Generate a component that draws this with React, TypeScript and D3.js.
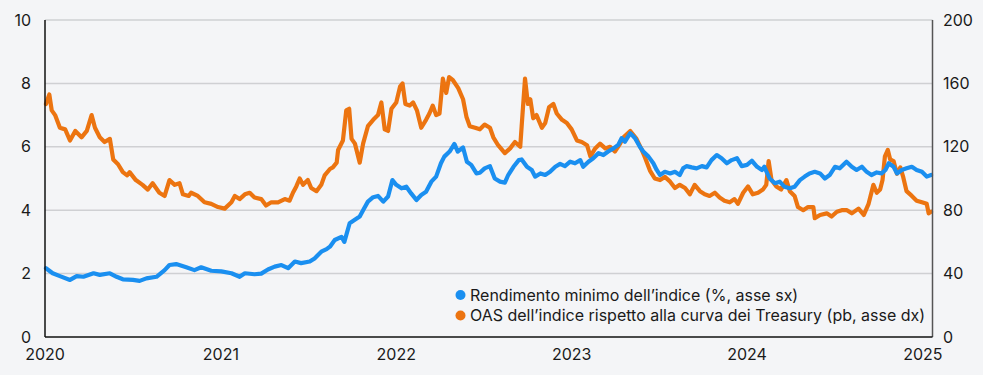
import React from "react";
import * as d3 from "d3";

const xTickYears = ["2020", "2021", "2022", "2023", "2024", "2025"];
const leftTicks = [0, 2, 4, 6, 8, 10];
const rightTicks = [0, 40, 80, 120, 160, 200];
const seriesNames = [
  "Rendimento minimo dell’indice (%, asse sx)",
  "OAS dell’indice rispetto alla curva dei Treasury (pb, asse dx)",
];

// Yield to worst (%), left axis
const ytwDates = [
  "2020-01-03","2020-01-17","2020-02-01","2020-02-22","2020-03-07","2020-03-21","2020-04-11","2020-04-24","2020-05-15","2020-05-29",
  "2020-06-11","2020-07-02","2020-07-16","2020-07-30","2020-08-20","2020-09-06","2020-09-16","2020-09-30","2020-10-21","2020-11-07",
  "2020-11-21","2020-12-12","2021-01-02","2021-01-23","2021-02-09","2021-02-20","2021-03-12","2021-03-26","2021-04-09","2021-04-23",
  "2021-05-07","2021-05-21","2021-06-04","2021-06-17","2021-07-05","2021-07-15","2021-07-29","2021-08-09","2021-08-16","2021-08-26",
  "2021-09-09","2021-09-15","2021-09-26","2021-10-06","2021-10-17","2021-10-24","2021-11-03","2021-11-14","2021-11-24","2021-12-05",
  "2021-12-15","2021-12-24","2022-01-01","2022-01-12","2022-01-22","2022-02-01","2022-02-12","2022-02-22","2022-03-04","2022-03-15",
  "2022-03-25","2022-04-04","2022-04-11","2022-04-22","2022-05-02","2022-05-09","2022-05-20","2022-05-28","2022-06-06","2022-06-17",
  "2022-06-24","2022-07-04","2022-07-15","2022-07-25","2022-08-05","2022-08-15","2022-08-22","2022-09-02","2022-09-13","2022-09-19",
  "2022-09-30","2022-10-10","2022-10-17","2022-10-28","2022-11-07","2022-11-17","2022-11-28","2022-12-08","2022-12-18","2022-12-29",
  "2023-01-08","2023-01-19","2023-01-25","2023-02-05","2023-02-15","2023-02-26","2023-03-08","2023-03-18","2023-03-29","2023-04-08",
  "2023-04-15","2023-04-22","2023-05-03","2023-05-13","2023-05-23","2023-05-30","2023-06-10","2023-06-20","2023-06-27","2023-07-04",
  "2023-07-14","2023-07-25","2023-08-04","2023-08-14","2023-08-21","2023-08-28","2023-09-08","2023-09-18","2023-09-29","2023-10-09",
  "2023-10-19","2023-10-30","2023-11-09","2023-11-20","2023-11-30","2023-12-11","2023-12-21","2024-01-01","2024-01-11","2024-01-22",
  "2024-02-01","2024-02-06","2024-02-17","2024-02-28","2024-03-09","2024-03-19","2024-03-30","2024-04-09","2024-04-20","2024-04-30",
  "2024-05-10","2024-05-21","2024-06-01","2024-06-11","2024-06-21","2024-07-02","2024-07-12","2024-07-26","2024-08-06","2024-08-16",
  "2024-08-27","2024-09-06","2024-09-16","2024-09-27","2024-10-07","2024-10-15","2024-10-22","2024-11-01","2024-11-08","2024-11-18",
  "2024-11-28","2024-12-09","2024-12-19","2024-12-30","2025-01-09","2025-01-18",
];
const ytwValues = [
  2.17,2.01,1.92,1.80,1.92,1.90,2.01,1.96,2.01,1.90,
  1.82,1.80,1.77,1.85,1.90,2.11,2.27,2.30,2.20,2.11,
  2.20,2.09,2.07,2.01,1.90,2.01,1.98,2.00,2.13,2.22,
  2.27,2.17,2.38,2.33,2.38,2.48,2.69,2.77,2.85,3.06,
  3.16,3.00,3.59,3.69,3.80,4.00,4.27,4.41,4.45,4.27,
  4.43,4.95,4.80,4.69,4.74,4.53,4.32,4.48,4.58,4.90,
  5.06,5.48,5.69,5.85,6.09,5.85,5.98,5.53,5.43,5.16,
  5.18,5.32,5.39,5.00,4.90,4.87,5.11,5.37,5.58,5.60,
  5.37,5.27,5.06,5.16,5.11,5.21,5.37,5.46,5.39,5.53,
  5.48,5.58,5.37,5.53,5.64,5.80,5.74,5.85,5.95,6.06,
  6.27,6.16,6.43,6.27,6.00,5.85,5.69,5.48,5.27,5.11,
  5.21,5.16,5.21,5.11,5.32,5.39,5.35,5.32,5.39,5.35,
  5.58,5.74,5.64,5.48,5.58,5.64,5.39,5.43,5.56,5.37,
  5.27,5.37,5.00,4.85,4.90,4.74,4.69,4.74,4.95,5.06,
  5.16,5.21,5.16,5.00,5.11,5.37,5.32,5.53,5.37,5.27,
  5.37,5.21,5.11,5.19,5.16,5.27,5.48,5.37,5.16,5.27,
  5.32,5.37,5.27,5.21,5.06,5.11,
];

// Option-adjusted spread (bp), right axis
const oasDates = [
  "2020-01-03","2020-01-10","2020-01-15","2020-01-22","2020-02-01","2020-02-12","2020-02-22","2020-03-04","2020-03-17","2020-03-28",
  "2020-04-07","2020-04-14","2020-04-24","2020-05-04","2020-05-15","2020-05-22","2020-06-01","2020-06-11","2020-06-20","2020-06-25",
  "2020-07-08","2020-07-22","2020-08-02","2020-08-12","2020-08-26","2020-09-06","2020-09-16","2020-09-27","2020-10-07","2020-10-14",
  "2020-10-26","2020-10-31","2020-11-14","2020-11-28","2020-12-12","2020-12-26","2021-01-09","2021-01-23","2021-01-30","2021-02-09",
  "2021-02-20","2021-03-02","2021-03-12","2021-03-26","2021-04-05","2021-04-16","2021-04-30","2021-05-14","2021-05-24","2021-05-31",
  "2021-06-07","2021-06-14","2021-06-21","2021-07-01","2021-07-08","2021-07-19","2021-07-29","2021-08-05","2021-08-16","2021-08-22",
  "2021-08-30","2021-09-02","2021-09-12","2021-09-19","2021-09-25","2021-09-30","2021-10-07","2021-10-17","2021-10-24","2021-11-03",
  "2021-11-14","2021-11-24","2021-12-01","2021-12-08","2021-12-15","2021-12-22","2022-01-01","2022-01-09","2022-01-14","2022-01-20",
  "2022-01-29","2022-02-05","2022-02-13","2022-02-22","2022-03-04","2022-03-11","2022-03-18","2022-03-25","2022-04-01","2022-04-08",
  "2022-04-15","2022-04-21","2022-04-29","2022-05-10","2022-05-20","2022-05-27","2022-06-03","2022-06-14","2022-06-24","2022-07-04",
  "2022-07-15","2022-07-22","2022-08-01","2022-08-15","2022-08-26","2022-09-05","2022-09-16","2022-09-19","2022-09-26","2022-10-02",
  "2022-10-07","2022-10-13","2022-10-20","2022-10-31","2022-11-07","2022-11-15","2022-11-24","2022-12-01","2022-12-12","2022-12-22",
  "2023-01-01","2023-01-12","2023-01-22","2023-02-02","2023-02-09","2023-02-19","2023-03-01","2023-03-12","2023-03-22","2023-04-01",
  "2023-04-12","2023-04-19","2023-05-03","2023-05-16","2023-05-27","2023-06-03","2023-06-13","2023-06-23","2023-07-04","2023-07-14",
  "2023-07-25","2023-08-04","2023-08-14","2023-08-25","2023-09-04","2023-09-14","2023-09-25","2023-10-05","2023-10-15","2023-10-26",
  "2023-11-05","2023-11-15","2023-11-26","2023-12-06","2023-12-13","2023-12-24","2024-01-03","2024-01-13","2024-01-24","2024-02-03",
  "2024-02-10","2024-02-15","2024-02-21","2024-03-02","2024-03-12","2024-03-23","2024-03-30","2024-04-09","2024-04-16","2024-04-27",
  "2024-05-07","2024-05-18","2024-05-21","2024-06-01","2024-06-15","2024-06-25","2024-07-06","2024-07-16","2024-07-27","2024-08-06",
  "2024-08-20","2024-08-31","2024-09-10","2024-09-20","2024-09-27","2024-10-04","2024-10-09","2024-10-14","2024-10-20","2024-10-25",
  "2024-11-01","2024-11-08","2024-11-15","2024-11-21","2024-11-28","2024-12-09","2024-12-19","2024-12-30","2025-01-09","2025-01-13",
  "2025-01-18",
];
const oasValues = [
  147,153,143,140,132,131,124,130,126,130,
  140,132,126,123,125,112,109,104,102,104,
  99,96,93,97,91,89,99,96,97,90,
  89,91,89,85,84,82,81,85,89,87,
  90,91,88,87,83,85,85,87,86,91,
  95,100,96,99,94,92,96,102,106,107,
  110,118,124,143,144,125,122,110,122,133,
  137,140,148,131,130,144,148,158,160,147,
  146,148,143,132,137,141,146,140,141,163,
  154,164,162,157,150,139,133,132,131,134,
  132,126,121,116,119,123,120,133,163,147,
  150,138,140,132,135,145,147,141,137,135,
  131,124,123,121,114,119,122,119,120,117,
  122,126,130,125,118,113,105,100,99,101,
  98,94,96,94,90,96,92,90,89,91,
  88,86,85,87,84,91,95,90,91,93,
  96,111,99,95,93,99,92,89,82,80,
  82,82,75,77,78,76,79,80,80,78,
  81,77,84,96,91,93,99,114,118,112,
  111,103,107,101,92,89,86,85,84,78,
  79,
];

const W = 983;
const H = 375;
const M = { left: 45, right: 932.5, top: 20, bottom: 337 };
const BLUE = "#1a8ff0";
const ORANGE = "#ec7410";
const FONT = "Inter, 'Noto Sans', sans-serif";

export default function App() {
  const parse = d3.timeParse("%Y-%m-%d");
  const x = d3
    .scaleTime()
    .domain([parse("2020-01-01")!, parse("2025-01-21")!])
    .range([M.left, M.right]);
  const yL = d3.scaleLinear().domain([0, 10]).range([M.bottom, M.top]);
  const yR = d3.scaleLinear().domain([0, 200]).range([M.bottom, M.top]);

  const ytw = ytwDates.map((d, i) => ({ d: parse(d)!, v: ytwValues[i] }));
  const oas = oasDates.map((d, i) => ({ d: parse(d)!, v: oasValues[i] }));

  const lineL = d3
    .line<{ d: Date; v: number }>()
    .x((p) => x(p.d))
    .y((p) => yL(p.v));
  const lineR = d3
    .line<{ d: Date; v: number }>()
    .x((p) => x(p.d))
    .y((p) => yR(p.v));

  return (
    <>
      <style>{`body{margin:0;}`}</style>
      <svg width={W} height={H} style={{ display: "block", fontFamily: FONT }}>
        <rect x={0} y={0} width={W} height={H} fill="#f4f5f7" />
        {leftTicks
          .filter((t) => t > 0)
          .map((t) => (
            <line
              key={"g" + t}
              x1={M.left}
              x2={M.right}
              y1={yL(t)}
              y2={yL(t)}
              stroke="#cfd0d3"
              strokeWidth={1.5}
            />
          ))}
        <path d={lineR(oas) ?? ""} fill="none" stroke={ORANGE} strokeWidth={4.2} strokeLinejoin="round" strokeLinecap="round" />
        <path d={lineL(ytw) ?? ""} fill="none" stroke={BLUE} strokeWidth={4.2} strokeLinejoin="round" strokeLinecap="round" />
        <line x1={M.left} x2={M.left} y1={M.top} y2={M.bottom} stroke="#111" strokeWidth={1.5} />
        <line x1={M.right} x2={M.right} y1={M.top} y2={M.bottom} stroke="#555" strokeWidth={1.5} />
        <line x1={M.left} x2={M.right} y1={M.bottom} y2={M.bottom} stroke="#111" strokeWidth={1.5} />
        {leftTicks.map((t) => (
          <text key={"l" + t} x={31} y={yL(t)} dy="0.35em" textAnchor="end" fontSize={16} fill="#1a1a1a">
            {t}
          </text>
        ))}
        {rightTicks.map((t) => (
          <text key={"r" + t} x={943} y={yR(t)} dy="0.35em" textAnchor="start" fontSize={16} fill="#1a1a1a">
            {t}
          </text>
        ))}
        {xTickYears.map((yr) => (
          <text key={yr} x={x(parse(yr + "-01-01")!)} y={354.5} dy="0.35em" textAnchor="middle" fontSize={16} fill="#1a1a1a">
            {yr}
          </text>
        ))}
        {seriesNames.map((name, i) => (
          <g key={name} transform={`translate(460.5, ${295 + i * 20.5})`}>
            <circle cx={0} cy={0} r={5} fill={i === 0 ? BLUE : ORANGE} />
            <text x={9.5} y={0} dy="0.35em" fontSize={16} fill="#1a1a1a">
              {name}
            </text>
          </g>
        ))}
      </svg>
    </>
  );
}
